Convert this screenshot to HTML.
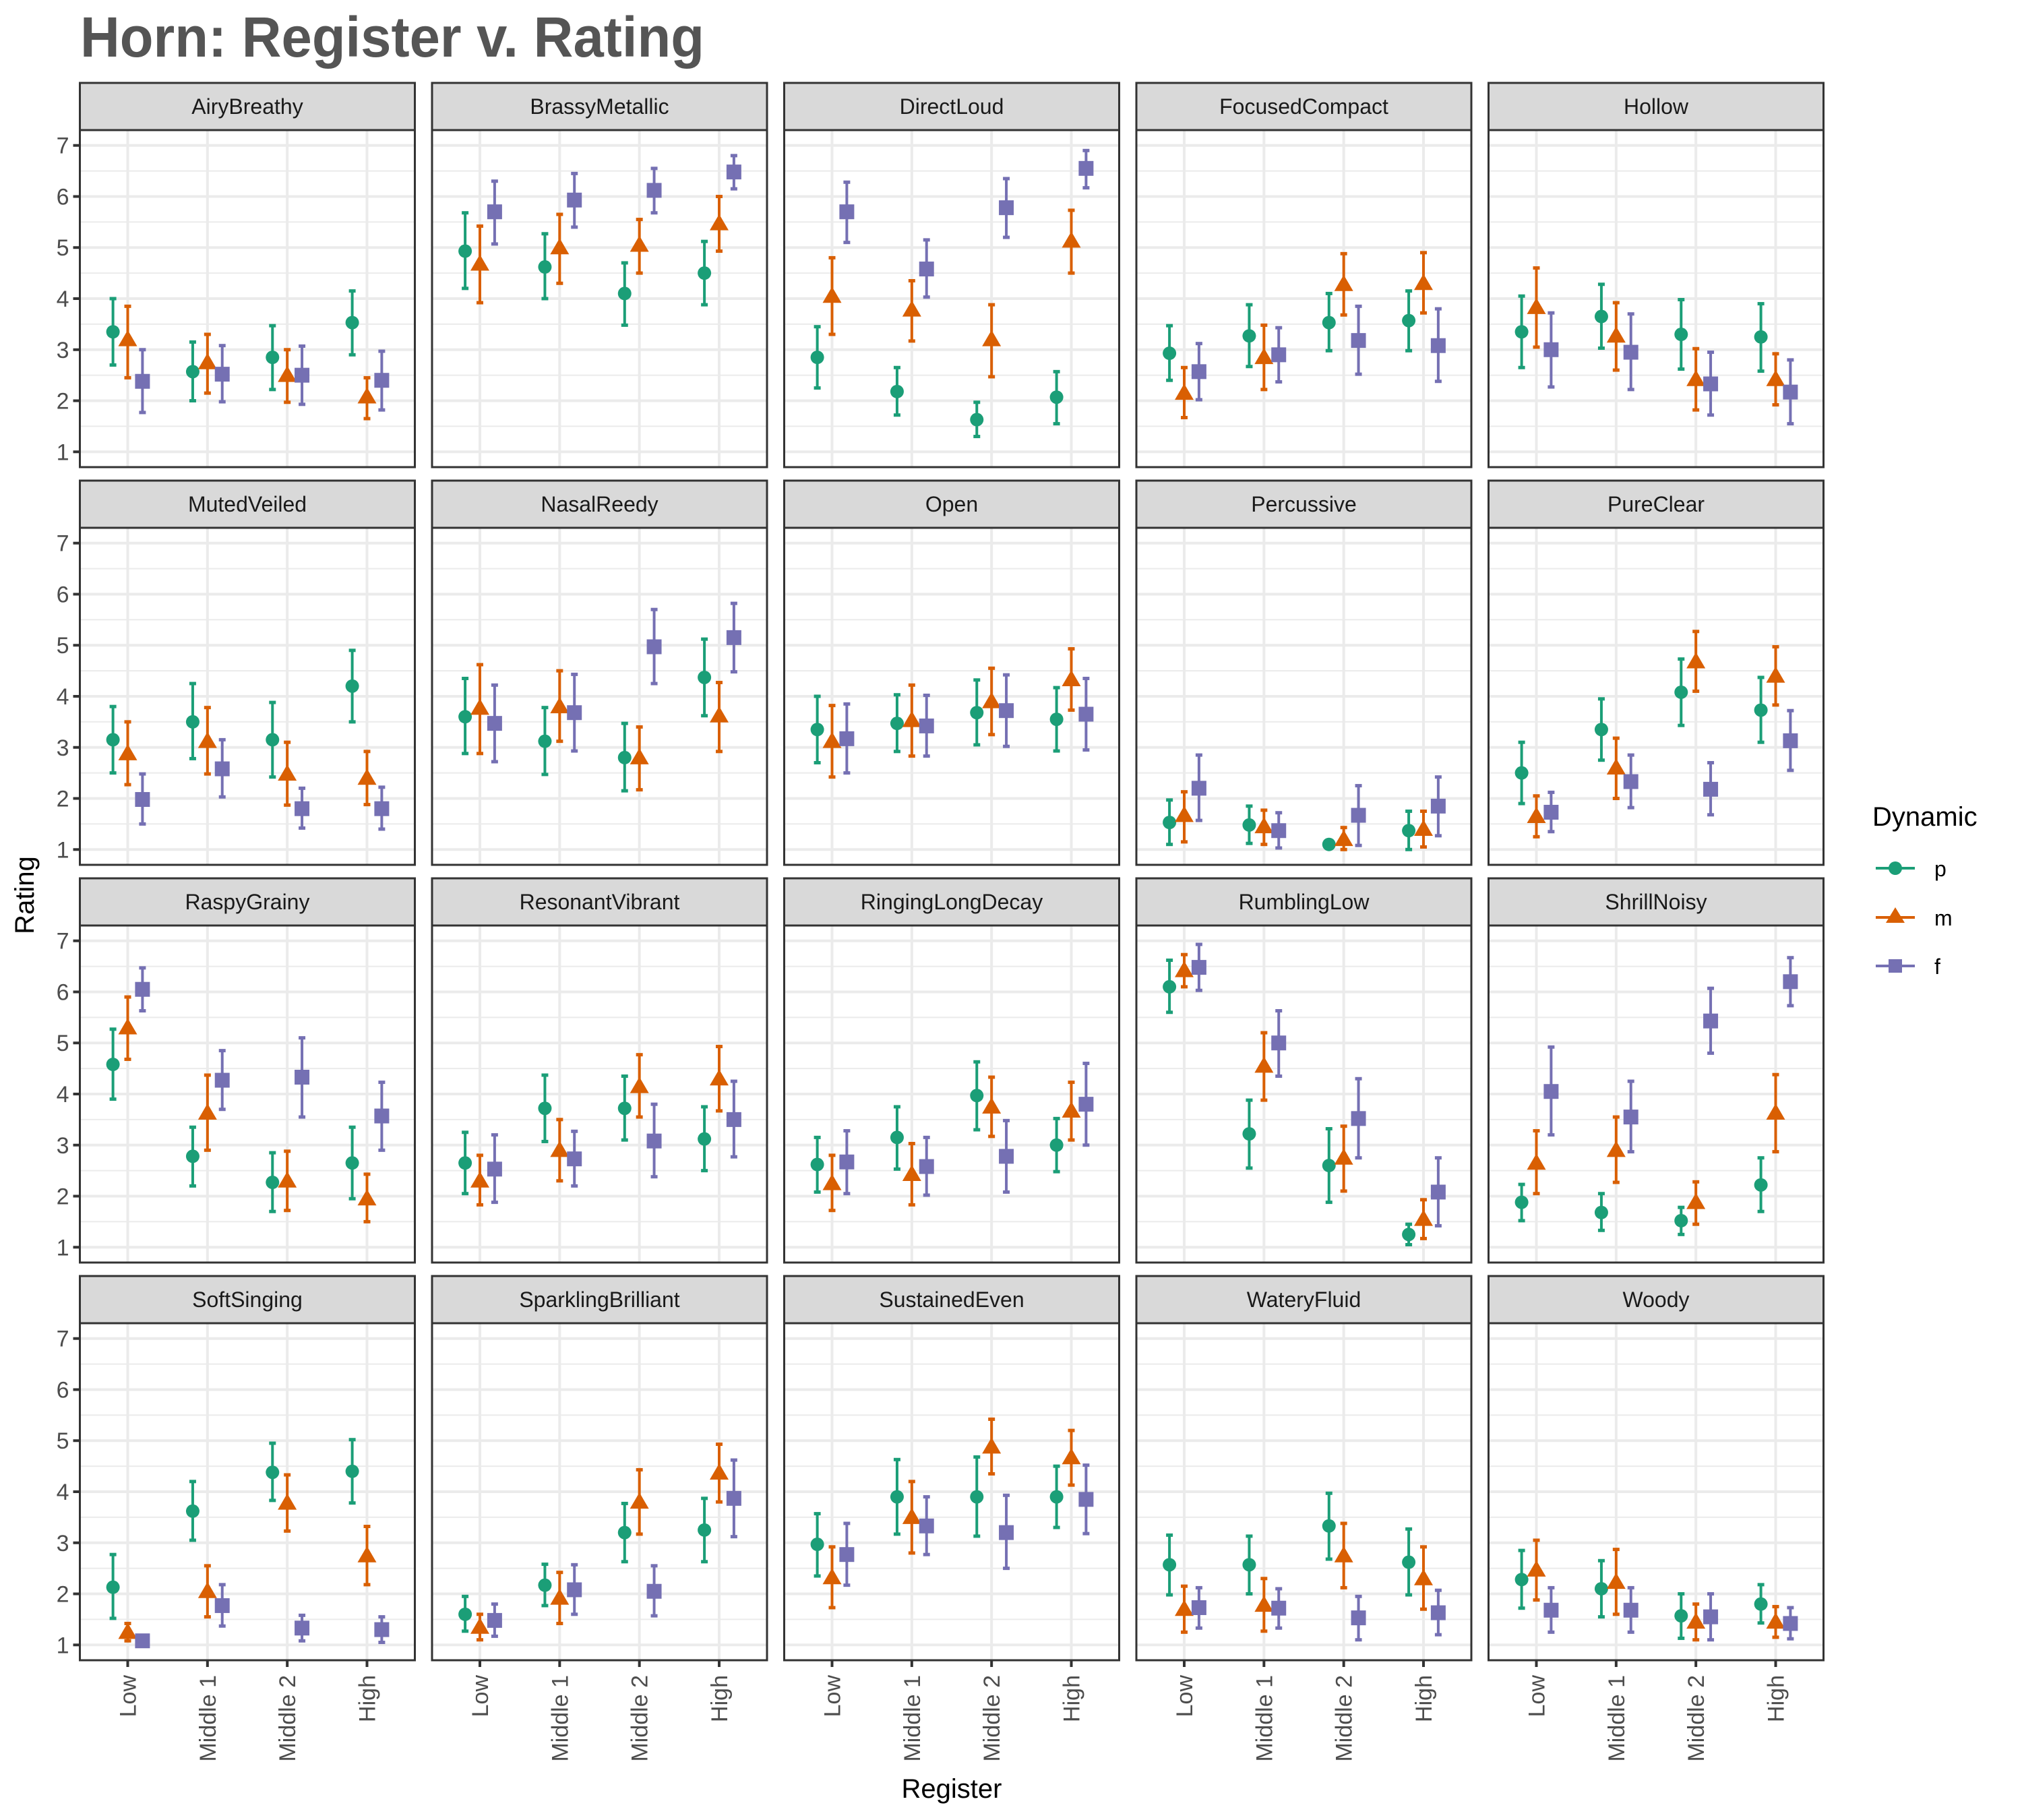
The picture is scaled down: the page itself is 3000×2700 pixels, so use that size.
<!DOCTYPE html>
<html><head><meta charset="utf-8"><style>
html,body{margin:0;padding:0;background:#fff;}
svg{display:block;font-family:"Liberation Sans",Arial,sans-serif;}
</style></head><body>
<svg id="chart" width="3000" height="2700" viewBox="0 0 3000 2700" xmlns="http://www.w3.org/2000/svg">
<rect width="3000" height="2700" fill="#fff"/>
<text x="119" y="84" font-size="84" font-weight="bold" fill="#555555" textLength="926" lengthAdjust="spacingAndGlyphs">Horn: Register v. Rating</text>
<text x="1412" y="2667" font-size="40" text-anchor="middle" fill="#000">Register</text>
<text transform="translate(50,1328) rotate(-90)" font-size="40" text-anchor="middle" fill="#000">Rating</text>
<g id="panels"></g>
<g>
<text x="2778" y="1225" font-size="40" fill="#000">Dynamic</text>
<g>
<line x1="2783" y1="1288" x2="2841" y2="1288" stroke="#1B9E77" stroke-width="4"/>
<circle cx="2812" cy="1288" r="10" fill="#1B9E77"/>
<text x="2870" y="1300" font-size="32" fill="#000">p</text></g>
<g>
<line x1="2783" y1="1361" x2="2841" y2="1361" stroke="#D95F02" stroke-width="4"/>
<polygon points="2812,1346 2826,1369 2798,1369" fill="#D95F02"/>
<text x="2870" y="1373" font-size="32" fill="#000">m</text></g>
<g>
<line x1="2783" y1="1433" x2="2841" y2="1433" stroke="#7570B3" stroke-width="4"/>
<rect x="2802" y="1423" width="20" height="20" fill="#7570B3"/>
<text x="2870" y="1445" font-size="32" fill="#000">f</text></g>
</g>
</svg>
<script>
const facets = ["AiryBreathy","BrassyMetallic","DirectLoud","FocusedCompact","Hollow","MutedVeiled","NasalReedy","Open","Percussive","PureClear","RaspyGrainy","ResonantVibrant","RingingLongDecay","RumblingLow","ShrillNoisy","SoftSinging","SparklingBrilliant","SustainedEven","WateryFluid","Woody"];
const registers = ["Low","Middle 1","Middle 2","High"];
const yTicks = [1,2,3,4,5,6,7];
const dynamics = ["p","m","f"];
const meanP = [[3.35,2.57,2.85,3.53],[4.93,4.62,4.1,4.5],[2.85,2.18,1.63,2.07],[2.93,3.27,3.53,3.57],[3.35,3.65,3.3,3.25],
[3.15,3.5,3.15,4.2],[3.6,3.12,2.8,4.37],[3.35,3.47,3.68,3.55],[1.53,1.48,1.1,1.37],[2.5,3.35,4.08,3.73],
[4.58,2.78,2.27,2.65],[2.65,3.72,3.72,3.12],[2.62,3.15,3.97,3.0],[6.1,3.22,2.6,1.25],[1.88,1.68,1.52,2.22],
[2.13,3.62,4.38,4.4],[1.6,2.17,3.2,3.25],[2.97,3.9,3.9,3.9],[2.57,2.57,3.33,2.62],[2.28,2.1,1.57,1.8]];
const loP = [[2.7,2.0,2.22,2.9],[4.2,4.0,3.48,3.88],[2.25,1.72,1.3,1.55],[2.4,2.67,2.98,2.98],[2.65,3.03,2.62,2.58],
[2.5,2.78,2.42,3.5],[2.88,2.47,2.15,3.62],[2.7,2.92,3.05,2.93],[1.1,1.12,1.03,1.0],[1.9,2.75,3.43,3.1],
[3.9,2.2,1.7,1.95],[2.05,3.07,3.1,2.5],[2.08,2.53,3.3,2.48],[5.6,2.55,1.88,1.05],[1.52,1.33,1.25,1.7],
[1.52,3.05,3.83,3.78],[1.27,1.77,2.63,2.63],[2.35,3.17,3.13,3.3],[1.98,2.0,2.68,1.98],[1.72,1.55,1.13,1.43]];
const hiP = [[4.0,3.15,3.47,4.15],[5.68,5.27,4.7,5.12],[3.45,2.65,1.97,2.57],[3.47,3.88,4.1,4.15],[4.05,4.28,3.98,3.9],
[3.8,4.25,3.88,4.9],[4.35,3.78,3.47,5.12],[4.0,4.03,4.32,4.17],[1.97,1.85,1.17,1.75],[3.1,3.95,4.73,4.37],
[5.27,3.35,2.85,3.35],[3.25,4.37,4.35,3.75],[3.15,3.75,4.63,3.52],[6.62,3.88,3.32,1.45],[2.23,2.05,1.78,2.75],
[2.77,4.2,4.95,5.02],[1.95,2.58,3.77,3.87],[3.57,4.63,4.68,4.5],[3.15,3.13,3.97,3.27],[2.85,2.65,2.0,2.18]];
const meanM = [[3.2,2.75,2.5,2.08],[4.68,5.0,5.05,5.47],[4.05,3.78,3.2,5.13],[2.15,2.85,4.28,4.3],[3.83,3.27,2.42,2.42],
[2.88,3.12,2.48,2.4],[3.77,3.8,2.8,3.62],[3.12,3.53,3.9,4.33],[1.67,1.45,1.2,1.4],[1.65,2.6,4.68,4.4],
[5.3,3.63,2.3,1.95],[2.3,2.9,4.15,4.3],[2.25,2.43,3.75,3.67],[6.42,4.55,2.75,1.55],[2.65,2.9,1.88,3.63],
[1.25,2.05,3.78,2.75],[1.35,1.92,3.8,4.37],[2.32,3.5,4.88,4.67],[1.7,1.78,2.75,2.3],[2.47,2.23,1.45,1.45]];
const loM = [[2.45,2.15,1.97,1.65],[3.92,4.3,4.5,4.93],[3.3,3.17,2.47,4.5],[1.67,2.22,3.68,3.72],[3.05,2.6,1.82,1.92],
[2.27,2.48,1.87,1.88],[2.88,3.12,2.17,2.92],[2.42,2.83,3.25,3.73],[1.15,1.1,1.0,1.05],[1.25,2.0,4.1,3.83],
[4.68,2.9,1.72,1.5],[1.83,2.3,3.55,3.67],[1.72,1.83,3.17,3.1],[6.1,3.88,2.1,1.17],[2.05,2.27,1.45,2.87],
[1.08,1.55,3.23,2.18],[1.1,1.42,3.17,3.8],[1.73,2.8,4.35,4.13],[1.25,1.27,2.12,1.7],[1.88,1.6,1.1,1.15]];
const hiM = [[3.85,3.3,3.0,2.45],[5.42,5.65,5.55,6.0],[4.8,4.35,3.88,5.73],[2.65,3.48,4.88,4.9],[4.6,3.92,3.02,2.92],
[3.5,3.78,3.1,2.92],[4.62,4.5,3.4,4.27],[3.82,4.22,4.55,4.93],[2.13,1.77,1.43,1.75],[2.05,3.18,5.27,4.97],
[5.9,4.37,2.88,2.43],[2.8,3.5,4.77,4.93],[2.8,3.03,4.33,4.23],[6.73,5.2,3.37,1.93],[3.28,3.55,2.28,4.38],
[1.42,2.55,4.33,3.32],[1.6,2.42,4.43,4.93],[2.92,4.2,5.42,5.2],[2.15,2.3,3.38,2.92],[3.05,2.87,1.8,1.75]];
const meanF = [[2.38,2.52,2.5,2.4],[5.7,5.93,6.12,6.48],[5.7,4.58,5.78,6.55],[2.57,2.9,3.18,3.08],[3.0,2.95,2.33,2.17],
[1.98,2.58,1.8,1.8],[3.47,3.68,4.97,5.15],[3.17,3.42,3.72,3.65],[2.2,1.37,1.67,1.85],[1.73,2.33,2.18,3.13],
[6.05,4.27,4.33,3.57],[2.53,2.73,3.08,3.5],[2.67,2.58,2.78,3.8],[6.48,5.0,3.52,2.08],[4.05,3.55,5.43,6.2],
[1.08,1.77,1.33,1.3],[1.48,2.08,2.05,3.87],[2.77,3.33,3.2,3.85],[1.73,1.72,1.53,1.63],[1.68,1.68,1.55,1.42]];
const loF = [[1.77,1.98,1.93,1.82],[5.07,5.4,5.68,6.15],[5.1,4.03,5.2,6.17],[2.02,2.37,2.52,2.38],[2.27,2.22,1.72,1.55],
[1.5,2.03,1.42,1.4],[2.72,2.93,4.25,4.48],[2.5,2.83,3.02,2.95],[1.57,1.03,1.08,1.27],[1.35,1.82,1.68,2.55],
[5.63,3.7,3.55,2.9],[1.88,2.2,2.38,2.77],[2.05,2.02,2.08,3.0],[6.03,4.35,2.75,1.42],[3.2,2.87,4.8,5.73],
[1.0,1.37,1.08,1.05],[1.17,1.6,1.57,3.12],[2.17,2.77,2.5,3.18],[1.33,1.33,1.1,1.2],[1.25,1.25,1.1,1.12]];
const hiF = [[3.0,3.08,3.07,2.97],[6.3,6.45,6.55,6.8],[6.28,5.15,6.35,6.9],[3.12,3.43,3.85,3.8],[3.72,3.7,2.95,2.8],
[2.48,3.15,2.2,2.22],[4.22,4.43,5.7,5.82],[3.85,4.02,4.42,4.35],[2.85,1.72,2.25,2.42],[2.12,2.85,2.7,3.72],
[6.47,4.85,5.1,4.23],[3.2,3.27,3.8,4.25],[3.28,3.15,3.48,4.6],[6.93,5.63,4.3,2.75],[4.92,4.25,6.07,6.67],
[1.15,2.18,1.58,1.55],[1.8,2.57,2.55,4.62],[3.38,3.9,3.93,4.52],[2.12,2.1,1.95,2.07],[2.12,2.12,2.0,1.73]];

const NS = "http://www.w3.org/2000/svg";
const colors = {p:"#1B9E77", m:"#D95F02", f:"#7570B3"};
const PX0 = 118.5, PW = 497, PPITCH = 522.5;
const STRIP0 = 123, STRIPH = 70, PH = 500, RPITCH = 590;
const root = document.getElementById("panels");
function mk(tag, attrs, parent){ const e=document.createElementNS(NS,tag); for(const k in attrs) e.setAttribute(k,attrs[k]); parent.appendChild(e); return e; }
function xScale(left, i, d){ return left + (i + 1 - 0.4 + d*0.185) * (PW/4.2); }
function yScale(top, v){ return top + (7.3 - v) * (PH/6.6); }

const series = {p:[meanP,loP,hiP], m:[meanM,loM,hiM], f:[meanF,loF,hiF]};
facets.forEach((name, k) => {
  const col = k % 5, row = Math.floor(k/5);
  const left = PX0 + col*PPITCH, stop = STRIP0 + row*RPITCH, top = stop + STRIPH;
  const g = mk("g", {}, root);
  
  
  const st = mk("rect", {x:left, y:stop, width:PW, height:STRIPH, fill:"#D9D9D9", stroke:"#333", "stroke-width":3}, g);
  
  
  const stt = mk("text", {x:left+PW/2, y:stop+46, "font-size":32, "text-anchor":"middle", fill:"#1a1a1a"}, g);
  stt.textContent = name;
  
  
  for(let v=1; v<=7; v+=0.5){
    const y = yScale(top, v);
    mk("line", {x1:left, x2:left+PW, y1:y, y2:y, stroke:"#EBEBEB", "stroke-width": (v%1===0)?4:2}, g);
  }
  registers.forEach((r,i) => {
    const x = xScale(left, i, 0);
    mk("line", {x1:x, x2:x, y1:top, y2:top+PH, stroke:"#EBEBEB", "stroke-width":4}, g);
  });
  dynamics.forEach((dy, di) => {
    const [mean, lo, hi] = series[dy];
    const c = colors[dy];
    registers.forEach((r, i) => {
      const x = xScale(left, i, di-1);
      const yl = yScale(top, lo[k][i]), yh = yScale(top, hi[k][i]), ym = yScale(top, mean[k][i]);
      const eb = mk("g", {}, g);
      
      
      mk("line", {x1:x, x2:x, y1:yl, y2:yh, stroke:c, "stroke-width":4}, eb);
      mk("line", {x1:x-5, x2:x+5, y1:yl, y2:yl, stroke:c, "stroke-width":5}, eb);
      mk("line", {x1:x-5, x2:x+5, y1:yh, y2:yh, stroke:c, "stroke-width":5}, eb);
      let m;
      if(dy==="p") m = mk("circle", {cx:x, cy:ym, r:10, fill:c}, g);
      else if(dy==="m") m = mk("polygon", {points:`${x},${ym-14} ${x+14},${ym+10} ${x-14},${ym+10}`, fill:c}, g);
      else m = mk("rect", {x:x-11, y:ym-11, width:22, height:22, fill:c}, g);
      
      
    });
  });
  mk("rect", {x:left, y:top, width:PW, height:PH, fill:"none", stroke:"#333", "stroke-width":3}, g);
  if(col===0){
    yTicks.forEach(v => {
      const y = yScale(top, v);
      mk("line", {x1:left-10, x2:left, y1:y, y2:y, stroke:"#333", "stroke-width":4}, g);
      const t = mk("text", {x:left-16, y:y+12, "font-size":34, "text-anchor":"end", fill:"#4D4D4D"}, g);
      t.textContent = v;
      
      
    });
  }
  if(row===3){
    registers.forEach((r,i) => {
      const x = xScale(left, i, 0);
      mk("line", {x1:x, x2:x, y1:top+PH, y2:top+PH+10, stroke:"#333", "stroke-width":4}, g);
      const t = mk("text", {transform:`translate(${x+12},${top+PH+22}) rotate(-90)`, "font-size":34, "text-anchor":"end", fill:"#4D4D4D"}, g);
      t.textContent = r;
      
      
    });
  }
});
</script>
</body></html>
